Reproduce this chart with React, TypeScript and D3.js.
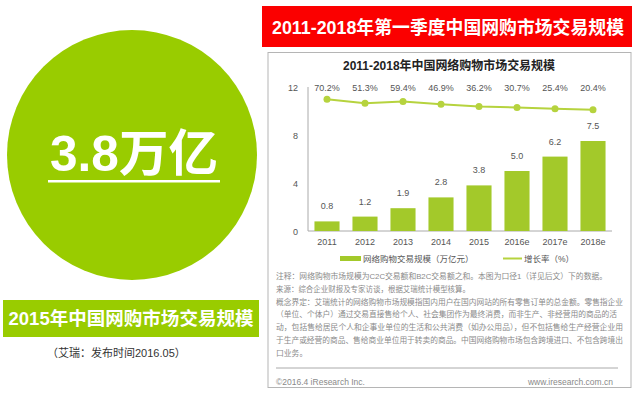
import React from "react";
import * as d3 from "d3";

const years = ["2011", "2012", "2013", "2014", "2015", "2016e", "2017e", "2018e"];
const marketScale = [0.8, 1.2, 1.9, 2.8, 3.8, 5.0, 6.2, 7.5];
const growthRate = [70.2, 51.3, 59.4, 46.9, 36.2, 30.7, 25.4, 20.4];
const yTicks = [0, 4, 8, 12];
const noteLines = [
  "注释：网络购物市场规模为C2C交易额和B2C交易额之和。本图为口径1（详见后文）下的数据。",
  "来源：综合企业财报及专家访谈，根据艾瑞统计模型核算。",
  "概念界定：艾瑞统计的网络购物市场规模指国内用户在国内网站的所有零售订单的总金额。零售指企业",
  "（单位、个体户）通过交易直接售给个人、社会集团作为最终消费，而非生产、非经营用的商品的活",
  "动，包括售给居民个人和企事业单位的生活和公共消费（如办公用品），但不包括售给生产经营企业用",
  "于生产或经营的商品、售给商业单位用于转卖的商品。中国网络购物市场包含跨境进口、不包含跨境出",
  "口业务。",
];
const noteWidths = [331, 194, 347, 341, 347, 347, 0];

const FONT = "'Liberation Sans', 'Noto Sans CJK SC', sans-serif";
const BAR = "#a3c92a";
const LINE = "#b6d33e";
const GREEN = "#99cc00";

export default function App() {
  const x = d3.scaleBand<string>().domain(years).range([308, 612]).paddingInner(0.34).paddingOuter(0.17);
  const y = d3.scaleLinear().domain([0, 12]).range([231, 87]);
  const yG = d3.scaleLinear().domain([0, 100]).range([114, 93.1]);
  const cx = (i: number) => (x(years[i]) as number) + x.bandwidth() / 2;
  const lineGen = d3
    .line<number>()
    .x((_, i) => cx(i))
    .y((d) => yG(d));

  return (
    <svg
      width={640}
      height={396}
      style={{ position: "absolute", left: 0, top: 0, background: "#fff", fontFamily: FONT }}
    >
      {/* Left panel */}
      <circle cx={132} cy={155} r={125} fill={GREEN} />
      <text x={134} y={171} textAnchor="middle" fill="#fff" fontSize={50} fontWeight="bold" textLength={168} lengthAdjust="spacingAndGlyphs">
        3.8万亿
      </text>
      <rect x={48} y={180} width={172} height={2.5} fill="#fff" />
      <rect x={3} y={300} width={256} height={37} fill={GREEN} />
      <text x={131} y={325} textAnchor="middle" fill="#fff" fontSize={18.5} fontWeight="bold" textLength={245} lengthAdjust="spacingAndGlyphs">
        2015年中国网购市场交易规模
      </text>
      <text x={47} y={357} fill="#333" fontSize={11}>
        （艾瑞：发布时间2016.05）
      </text>

      {/* Right panel */}
      <rect x={262} y={6} width={370} height={41} fill="#fb0000" />
      <text x={448} y={34} textAnchor="middle" fill="#fff" fontSize={18.5} fontWeight="bold" textLength={352} lengthAdjust="spacingAndGlyphs">
        2011-2018年第一季度中国网购市场交易规模
      </text>
      <rect x={268} y={52.5} width={363} height={335} fill="#fff" stroke="#b5b5b5" strokeWidth={1} />
      <text x={449} y={70} textAnchor="middle" fill="#222" fontSize={12.5} fontWeight="bold" textLength={212} lengthAdjust="spacingAndGlyphs">
        2011-2018年中国网络购物市场交易规模
      </text>

      {/* Axes */}
      <line x1={308} x2={308} y1={y(12)} y2={y(0)} stroke="#aaa" />
      <line x1={308} x2={612} y1={y(0)} y2={y(0)} stroke="#aaa" />
      {yTicks.map((t) => (
        <text key={t} x={298} y={y(t) + 3.5} textAnchor="end" fill="#555" fontSize={9}>
          {t}
        </text>
      ))}

      {/* Bars */}
      {marketScale.map((v, i) => (
        <g key={years[i]}>
          <rect x={x(years[i])} y={y(v)} width={x.bandwidth()} height={y(0) - y(v)} fill={BAR} />
          <text x={cx(i)} y={y(v) - 12} textAnchor="middle" fill="#555" fontSize={9}>
            {v.toFixed(1)}
          </text>
          <text x={cx(i)} y={245} textAnchor="middle" fill="#555" fontSize={9}>
            {years[i]}
          </text>
        </g>
      ))}

      {/* Growth line */}
      <path d={lineGen(growthRate) || ""} fill="none" stroke={LINE} strokeWidth={2} />
      {growthRate.map((g, i) => (
        <g key={"g" + i}>
          <circle cx={cx(i)} cy={yG(g)} r={3.5} fill={LINE} />
          <text x={cx(i)} y={91} textAnchor="middle" fill="#555" fontSize={9}>
            {g.toFixed(1)}%
          </text>
        </g>
      ))}

      {/* Legend */}
      <rect x={340} y={256} width={21} height={5} fill={BAR} />
      <text x={363} y={261.5} fill="#555" fontSize={8.5}>
        网络购物交易规模（万亿元）
      </text>
      <line x1={503} x2={522} y1={258.5} y2={258.5} stroke={LINE} strokeWidth={2} />
      <text x={524} y={261.5} fill="#555" fontSize={8.5}>
        增长率（%）
      </text>

      {/* Notes */}
      {noteLines.map((l, i) => (
        <text
          key={"n" + i}
          x={276}
          y={279 + i * 12.8}
          fill="#8a8a8a"
          fontSize={7.8}
          {...(noteWidths[i] ? { textLength: noteWidths[i], lengthAdjust: "spacingAndGlyphs" } : {})}
        >
          {l}
        </text>
      ))}
      <line x1={276} x2={618} y1={368} y2={368} stroke="#aaa" />
      <text x={276} y={385} fill="#8a8a8a" fontSize={8.5}>
        ©2016.4 iResearch Inc.
      </text>
      <text x={613} y={385} textAnchor="end" fill="#8a8a8a" fontSize={8.5}>
        www.iresearch.com.cn
      </text>
    </svg>
  );
}
